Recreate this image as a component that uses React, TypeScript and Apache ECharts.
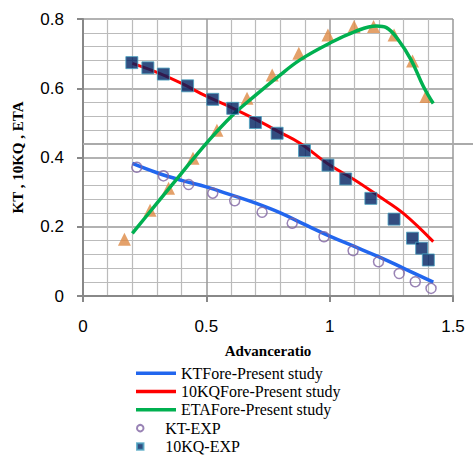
import React, { useEffect, useRef } from "react";
import * as echarts from "echarts";

const ktForeX = [0.2, 0.3, 0.4, 0.5, 0.6, 0.7, 0.8, 0.9, 1.0, 1.1, 1.2, 1.3, 1.42];
const ktForeY = [0.383, 0.356, 0.334, 0.315, 0.292, 0.268, 0.24, 0.206, 0.173, 0.143, 0.113, 0.08, 0.04];

const kqForeX = [0.2, 0.3, 0.4, 0.5, 0.6, 0.7, 0.8, 0.88, 1.0, 1.1, 1.2, 1.3, 1.42];
const kqForeY = [0.672, 0.646, 0.614, 0.577, 0.545, 0.51, 0.472, 0.441, 0.378, 0.336, 0.288, 0.238, 0.157];

const etaForeX = [0.2, 0.3, 0.4, 0.5, 0.6, 0.7, 0.79, 0.88, 1.0, 1.1, 1.19, 1.23, 1.28, 1.33, 1.38, 1.42];
const etaForeY = [0.181, 0.268, 0.355, 0.441, 0.518, 0.58, 0.633, 0.682, 0.73, 0.763, 0.78, 0.775, 0.738, 0.682, 0.605, 0.556];

const ktExpX = [0.218, 0.326, 0.428, 0.526, 0.615, 0.726, 0.848, 0.977, 1.095, 1.198, 1.282, 1.347, 1.411];
const ktExpY = [0.372, 0.347, 0.322, 0.297, 0.275, 0.242, 0.21, 0.171, 0.131, 0.099, 0.065, 0.041, 0.022];

const kqExpX = [0.198, 0.263, 0.326, 0.424, 0.526, 0.607, 0.699, 0.787, 0.898, 0.993, 1.065, 1.167, 1.261, 1.336, 1.373, 1.4];
const kqExpY = [0.674, 0.659, 0.641, 0.607, 0.568, 0.542, 0.501, 0.47, 0.42, 0.378, 0.338, 0.282, 0.222, 0.167, 0.138, 0.104];

const etaExpX = [0.168, 0.272, 0.347, 0.446, 0.543, 0.665, 0.767, 0.875, 0.993, 1.099, 1.178, 1.261, 1.336, 1.39];
const etaExpY = [0.164, 0.248, 0.311, 0.398, 0.479, 0.571, 0.638, 0.701, 0.754, 0.778, 0.778, 0.754, 0.679, 0.576];

const xTicks = [0, 0.5, 1, 1.5];
const yTicks = [0, 0.2, 0.4, 0.6, 0.8];

const names = [
  "KTFore-Present study",
  "10KQFore-Present study",
  "ETAFore-Present study",
  "KT-EXP",
  "10KQ-EXP",
  "ETA-EXP",
];

const zip = (xs: number[], ys: number[]) => xs.map((x, i) => [x, ys[i]]);

export default function App() {
  const ref = useRef<HTMLDivElement>(null);
  useEffect(() => {
    if (!ref.current) return;
    const chart = echarts.init(ref.current, undefined, { renderer: "svg" });
    const serif = "'Liberation Serif', 'Times New Roman', serif";
    const sans = "'Liberation Sans', Arial, sans-serif";
    const legendText = { fontFamily: serif, fontSize: 16, color: "#000", lineHeight: 18.3 };
    chart.setOption({
      animation: false,
      backgroundColor: "#fff",
      grid: { left: 83, right: 20, top: 19, bottom: 164, containLabel: false },
      xAxis: {
        type: "value",
        min: xTicks[0],
        max: xTicks[xTicks.length - 1],
        interval: 0.5,
        name: "Advanceratio",
        nameLocation: "middle",
        nameGap: 47,
        nameTextStyle: { fontFamily: serif, fontWeight: "bold", fontSize: 15, color: "#000" },
        axisLine: { show: true, lineStyle: { color: "#888", width: 2 } },
        axisTick: { show: true, length: 6, lineStyle: { color: "#888", width: 2 } },
        axisLabel: { fontFamily: sans, fontSize: 17, color: "#000", margin: 22 },
        splitLine: { show: true, lineStyle: { color: "#999", width: 1.5 } },
        minorTick: { show: false, splitNumber: 5 },
        minorSplitLine: { show: true, lineStyle: { color: "#bbb", width: 1.2 } },
      },
      yAxis: {
        type: "value",
        min: yTicks[0],
        max: yTicks[yTicks.length - 1],
        interval: 0.2,
        name: "KT , 10KQ , ETA",
        nameLocation: "middle",
        nameGap: 58,
        nameTextStyle: { fontFamily: serif, fontWeight: "bold", fontSize: 15, color: "#000" },
        axisLine: { show: true, lineStyle: { color: "#888", width: 2 } },
        axisTick: { show: true, length: 6, lineStyle: { color: "#888", width: 2 } },
        axisLabel: { fontFamily: sans, fontSize: 17, color: "#000", margin: 19 },
        splitLine: { show: true, lineStyle: { color: "#999", width: 1.5 } },
        minorTick: { show: false, splitNumber: 5 },
        minorSplitLine: { show: true, lineStyle: { color: "#bbb", width: 1.2 } },
      },
      graphic: [
        {
          type: "line",
          shape: { x1: 83, y1: 144, x2: 473, y2: 144 },
          style: { stroke: "#aaa", lineWidth: 2 },
          z: 1,
        },
      ],
      legend: [
        {
          orient: "vertical",
          left: 136,
          top: 364,
          padding: 0,
          itemWidth: 40,
          itemHeight: 3.5,
          itemGap: 0,
          textStyle: legendText,
          data: [
            { name: names[0], icon: "rect" },
            { name: names[1], icon: "rect" },
            { name: names[2], icon: "rect" },
          ],
        },
        {
          orient: "vertical",
          left: 136,
          top: 419,
          padding: 0,
          height: 41,
          itemWidth: 40,
          itemHeight: 6.5,
          itemGap: 0,
          symbolKeepAspect: true,
          textStyle: legendText,
          data: [
            { name: names[3], icon: "circle" },
            { name: names[4], icon: "path://M0,0H10V10H0Z" },
          ],
        },
      ],
      series: [
        {
          name: names[0],
          type: "line",
          smooth: 0.4,
          symbol: "none",
          data: zip(ktForeX, ktForeY),
          lineStyle: { color: "#2266ee", width: 3.5 },
          itemStyle: { color: "#2266ee" },
          z: 3,
        },
        {
          name: names[1],
          type: "line",
          smooth: 0.4,
          symbol: "none",
          data: zip(kqForeX, kqForeY),
          lineStyle: { color: "#ff0000", width: 3 },
          itemStyle: { color: "#ff0000" },
          z: 3,
        },
        {
          name: names[2],
          type: "line",
          smooth: 0.4,
          symbol: "none",
          data: zip(etaForeX, etaForeY),
          lineStyle: { color: "#00b050", width: 3.5 },
          itemStyle: { color: "#00b050" },
          z: 3,
        },
        {
          name: names[3],
          type: "scatter",
          symbol: "circle",
          symbolSize: 10,
          data: zip(ktExpX, ktExpY),
          itemStyle: { color: "rgba(255,255,255,0)", borderColor: "#8064a2", borderWidth: 1.5 },
          z: 4,
        },
        {
          name: names[4],
          type: "scatter",
          symbol: "rect",
          symbolSize: 12,
          data: zip(kqExpX, kqExpY),
          itemStyle: { color: "#002060", borderColor: "#4aa3c0", borderWidth: 1 },
          z: 4,
        },
        {
          name: names[5],
          type: "scatter",
          symbol: "triangle",
          symbolSize: 13,
          data: zip(etaExpX, etaExpY),
          itemStyle: { color: "#dd8a45" },
          z: 2,
        },
      ],
    });
    return () => chart.dispose();
  }, []);
  return (
    <div
      ref={ref}
      style={{ position: "fixed", left: 0, top: 0, width: 473, height: 460 }}
    />
  );
}
